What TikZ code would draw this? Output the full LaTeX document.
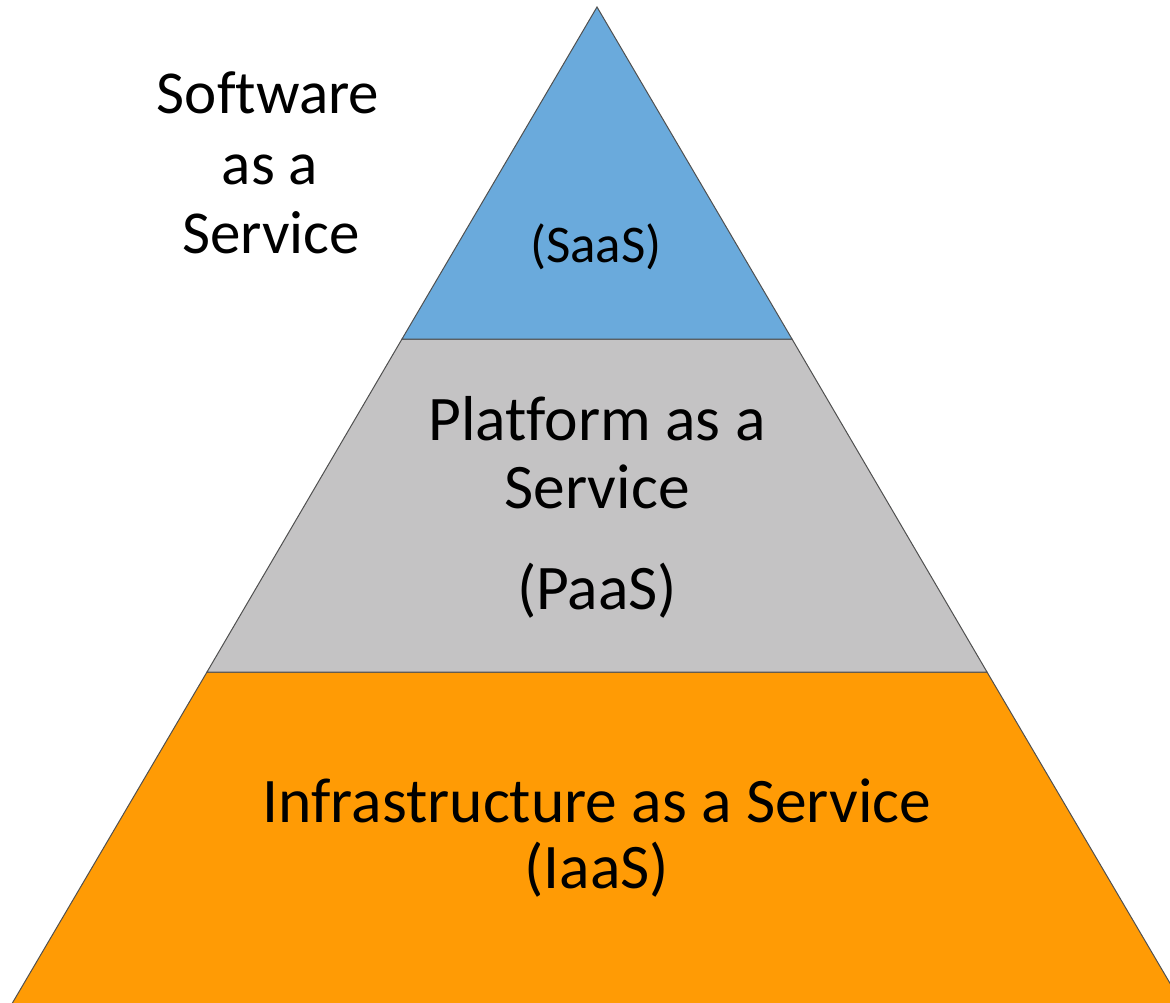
\documentclass[tikz,border=0pt]{standalone}
\usepackage{fontspec}
\setmainfont{Carlito}[Ligatures=NoCommon]
\definecolor{saasblue}{RGB}{106,170,220}
\definecolor{paasgray}{RGB}{196,195,196}
\definecolor{iaasorange}{RGB}{255,155,5}
\definecolor{edgegray}{RGB}{80,80,80}
\tikzset{
    layer/.style={draw=edgegray, line width=1pt, line join=miter},
    bigtext/.style={anchor=base, inner sep=0pt, font=\fontsize{63.5}{68}\selectfont},
    sidetext/.style={anchor=base, inner sep=0pt, font=\fontsize{61}{68}\selectfont},
    smalltext/.style={anchor=base, inner sep=0pt, font=\fontsize{53}{60}\selectfont}
}
\begin{document}
\begin{tikzpicture}[x=1pt, y=-1pt]
        \useasboundingbox (0, 0) rectangle (1170, 1002);
        \clip (0, 0) rectangle (1170, 1002);

        % layers
        \draw[layer, fill=iaasorange] (207, 672) -- (987, 672) -- (1191.6, 1020) -- (2.4, 1020) -- cycle;
        \draw[layer, fill=paasgray] (402, 339) -- (792, 339) -- (987, 672) -- (207, 672) -- cycle;
        \draw[layer, fill=saasblue] (597, 7) -- (792, 339) -- (402, 339) -- cycle;

        % texts
        \node[sidetext] (soft1) at (268, 113) {Software};
        \node[sidetext] (soft2) at (270, 184) {as a};
        \node[sidetext] (soft3) at (271, 253) {Service};

        \node[smalltext] (saas) at (596, 262) {(SaaS)};

        \node[bigtext] (paas1) at (597, 440) {Platform as a};
        \node[bigtext] (paas2) at (597, 508) {Service};
        \node[bigtext] (paas3) at (597, 609) {(PaaS)};

        \node[bigtext] (iaas1) at (597, 822) {Infrastructure as a Service};
        \node[bigtext] (iaas2) at (597, 888) {(IaaS)};
    \end{tikzpicture}
\end{document}
